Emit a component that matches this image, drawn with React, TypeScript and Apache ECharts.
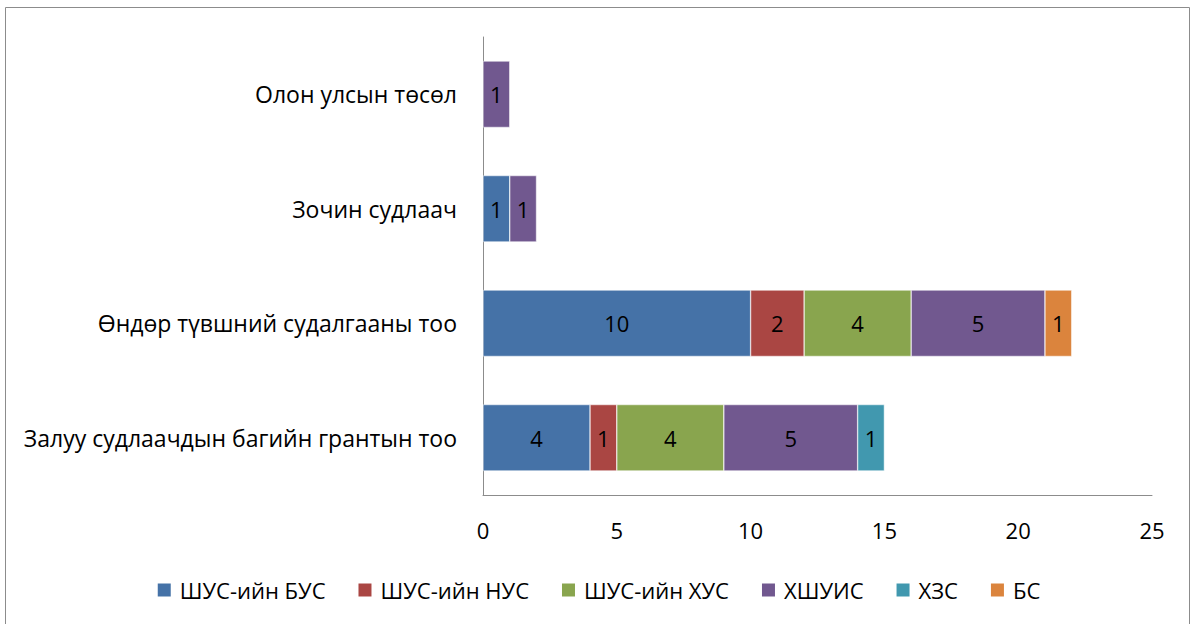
import React, { useEffect, useRef } from "react";
import * as echarts from "echarts";

const categories = [
  "Залуу судлаачдын багийн грантын тоо",
  "Өндөр түвшний судалгааны тоо",
  "Зочин судлаач",
  "Олон улсын төсөл",
];
const seriesNames = ["ШУС-ийн БУС", "ШУС-ийн НУС", "ШУС-ийн ХУС", "ХШУИС", "ХЗС", "БС"];
const bus = [4, 10, 1, 0];
const nus = [1, 2, 0, 0];
const hus = [4, 4, 0, 0];
const hshuis = [5, 5, 1, 1];
const hzs = [1, 0, 0, 0];
const bs = [0, 1, 0, 0];
const seriesValues = [bus, nus, hus, hshuis, hzs, bs];
const colors = ["#4572A7", "#AA4643", "#89A54E", "#71588F", "#4198AF", "#DB843D"];
const xTicks = [0, 5, 10, 15, 20, 25];

const FONT = "Open Sans";

export default function App() {
  const ref = useRef<HTMLDivElement>(null);
  useEffect(() => {
    document.body.style.margin = "0";
    const chart = echarts.init(ref.current!, undefined, { renderer: "svg" });
    chart.setOption({
      animation: false,
      color: colors,
      textStyle: { fontFamily: FONT },
      graphic: [
        {
          type: "rect",
          shape: { x: 5.5, y: 7.5, width: 1184, height: 630 },
          style: { fill: "none", stroke: "#8c8c8c", lineWidth: 1 },
          silent: true,
        },
      ],
      grid: { left: 483, right: 44, top: 37, bottom: 129, containLabel: false },
      legend: {
        top: 574,
        left: "center",
        itemWidth: 15,
        itemHeight: 15,
        itemGap: 31,
        icon: "rect",
        textStyle: { fontSize: 22, color: "#000", fontFamily: FONT, padding: [0, 0, 0, 3] },
        data: seriesNames,
      },
      xAxis: {
        type: "value",
        min: xTicks[0],
        max: xTicks[xTicks.length - 1],
        interval: 5,
        splitLine: { show: false },
        axisLine: { show: true, lineStyle: { color: "#8c8c8c" } },
        axisTick: { show: false },
        axisLabel: { fontSize: 22, color: "#000", margin: 24, fontFamily: FONT },
      },
      yAxis: {
        type: "category",
        data: categories,
        axisLine: { show: true, lineStyle: { color: "#8c8c8c" } },
        axisTick: { show: false },
        axisLabel: { fontSize: 23, color: "#000", margin: 26, fontFamily: FONT },
      },
      series: seriesNames.map((name, i) => ({
        name,
        type: "bar",
        stack: "total",
        barWidth: "58%",
        data: seriesValues[i].map((v) => (v === 0 ? null : v)),
        itemStyle: { borderColor: "#ffffff", borderWidth: 0.5 },
        label: {
          show: true,
          position: "inside",
          color: "#000",
          fontSize: 22,
          fontFamily: FONT,
        },
      })),
    });
    return () => chart.dispose();
  }, []);
  return <div ref={ref} style={{ width: 1196, height: 624 }} />;
}
